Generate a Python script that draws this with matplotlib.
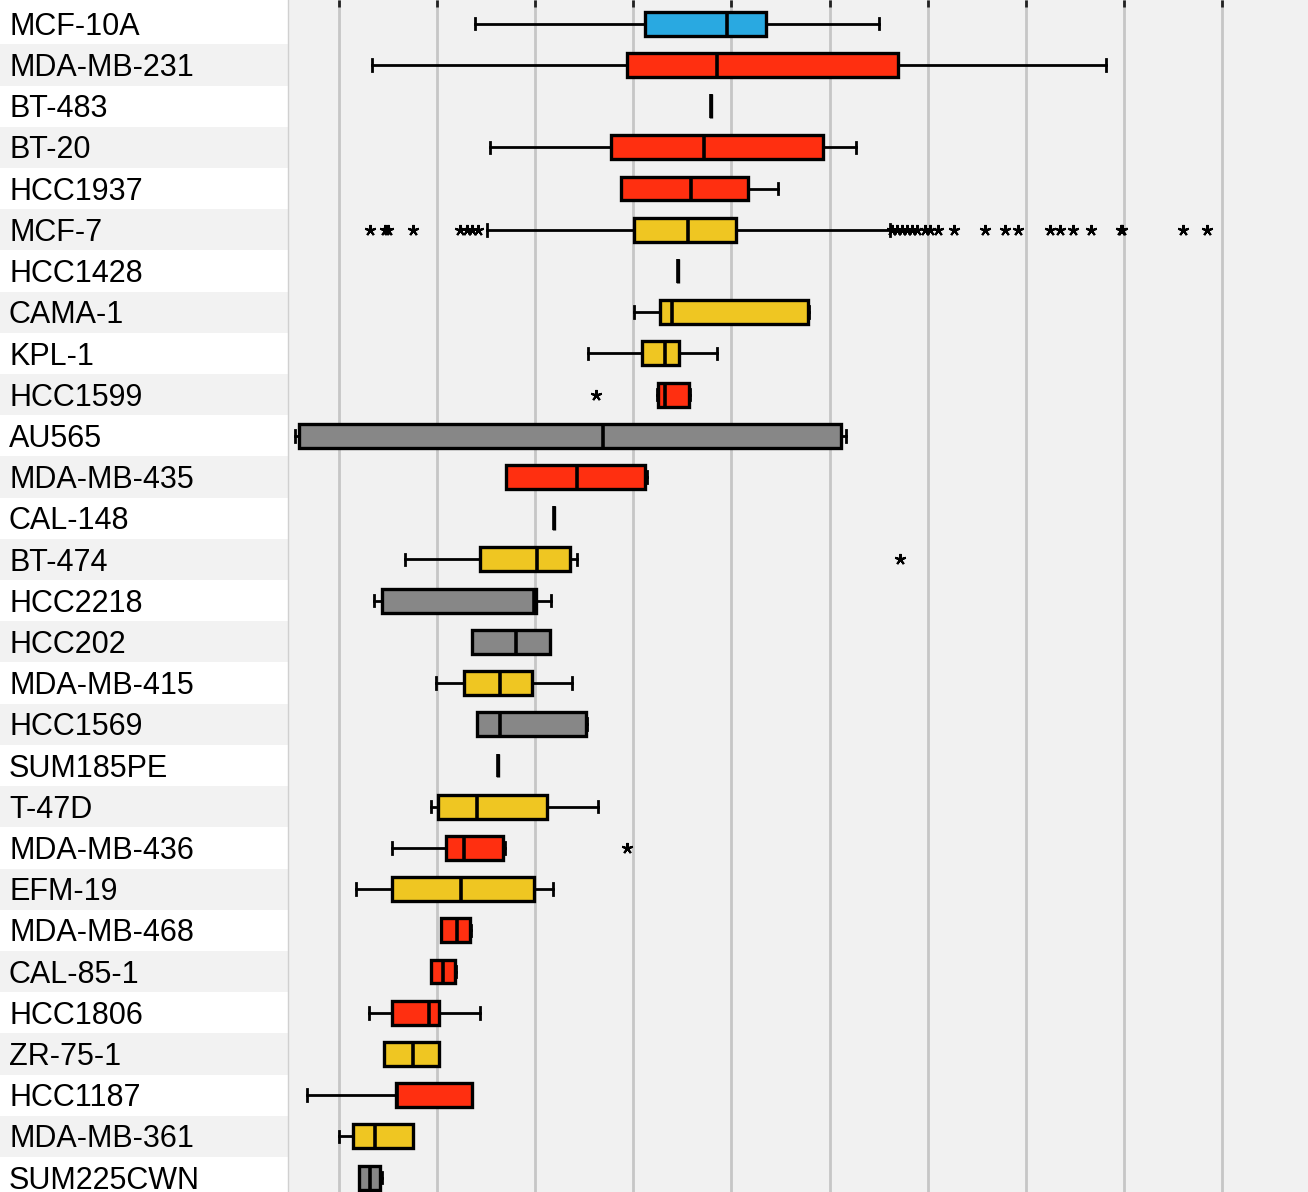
import matplotlib
matplotlib.use("Agg")
import matplotlib.pyplot as plt

plt.rcParams['font.family'] = ['Liberation Sans', 'DejaVu Sans']

# cell lines, top to bottom
names = ["MCF-10A", "MDA-MB-231", "BT-483", "BT-20", "HCC1937", "MCF-7", "HCC1428",
         "CAMA-1", "KPL-1", "HCC1599", "AU565", "MDA-MB-435", "CAL-148", "BT-474",
         "HCC2218", "HCC202", "MDA-MB-415", "HCC1569", "SUM185PE", "T-47D",
         "MDA-MB-436", "EFM-19", "MDA-MB-468", "CAL-85-1", "HCC1806", "ZR-75-1",
         "HCC1187", "MDA-MB-361", "SUM225CWN"]
kinds = ["normal", "tnbc", "lum", "tnbc", "tnbc", "lum", "lum",
         "lum", "lum", "tnbc", "her2", "tnbc", "tnbc", "lum",
         "her2", "her2", "lum", "her2", "lum", "lum",
         "tnbc", "lum", "tnbc", "tnbc", "tnbc", "lum",
         "tnbc", "lum", "her2"]

whislo = [1.386, 0.336, 3.792, 1.539, 2.875, 1.509, 3.456, 3.007, 2.538, 3.242,
          -0.449, 1.702, 2.192, 0.673, 0.357, 1.356, 0.989, 1.407, 1.621, 0.938,
          0.540, 0.173, 1.040, 0.938, 0.306, 0.459, -0.326, 0.000, 0.204]
q1 = [3.119, 2.936, 3.792, 2.773, 2.875, 3.007, 3.456, 3.272, 3.089, 3.252,
      -0.408, 1.702, 2.192, 1.437, 0.438, 1.356, 1.274, 1.407, 1.621, 1.009,
      1.091, 0.540, 1.040, 0.938, 0.540, 0.459, 0.581, 0.143, 0.204]
med = [3.955, 3.853, 3.792, 3.721, 3.588, 3.558, 3.456, 3.395, 3.323, 3.323,
       2.691, 2.426, 2.192, 2.018, 1.988, 1.804, 1.641, 1.641, 1.621, 1.407,
       1.274, 1.244, 1.203, 1.060, 0.917, 0.754, 0.591, 0.367, 0.316]
q3 = [4.353, 5.698, 3.792, 4.934, 4.169, 4.047, 3.456, 4.781, 3.466, 3.568,
      5.117, 3.119, 2.192, 2.355, 2.008, 2.151, 1.967, 2.518, 1.621, 2.120,
      1.672, 1.988, 1.335, 1.182, 1.019, 1.019, 1.356, 0.754, 0.418]
whishi = [5.505, 7.819, 3.792, 5.270, 4.475, 5.617, 3.456, 4.791, 3.853, 3.578,
          5.168, 3.140, 2.192, 2.426, 2.161, 2.151, 2.375, 2.528, 1.621, 2.640,
          1.692, 2.181, 1.346, 1.193, 1.437, 1.019, 1.356, 0.754, 0.438]

# outliers (only a few rows have them)
fliers_mcf7 = [0.316, 0.469, 0.499, 0.754, 1.233, 1.305, 1.356, 1.417,
               5.637, 5.688, 5.739, 5.790, 5.841, 5.892, 5.974, 6.025, 6.106,
               6.270, 6.585, 6.789, 6.922, 7.248, 7.350, 7.482, 7.666, 7.971,
               7.982, 8.604, 8.848]
fliers_hcc1599 = [2.620]
fliers_bt474 = [5.719]
fliers_mdamb436 = [2.936]

colors = {"normal": "#29a9e1", "tnbc": "#ff2f10", "lum": "#efc622", "her2": "#878787"}

fliers = {5: fliers_mcf7, 9: fliers_hcc1599, 13: fliers_bt474, 20: fliers_mdamb436}

stats = []
for i in range(len(names)):
    stats.append(dict(whislo=whislo[i], q1=q1[i], med=med[i], q3=q3[i],
                      whishi=whishi[i], fliers=fliers.get(i, [])))

fig = plt.figure(figsize=(13.08, 11.92), dpi=100)
W, H = 1308, 1192
split = 288
ylims = (28.35, -0.575)

# label column with stripes
lax = fig.add_axes([0, 0, split / W, 1])
lax.set_xlim(0, 1)
lax.set_ylim(*ylims)
for i, n in enumerate(names):
    if i % 2 == 1:
        lax.axhspan(i - 0.5, i + 0.5, color="#f2f2f2", lw=0)
    lax.text(9 / split, i + 0.27, n, fontsize=22, va="baseline", ha="left", color="black")
lax.axis("off")

ax = fig.add_axes([split / W, 0, 1 - split / W, 1])
ax.set_facecolor("#f1f1f1")
ax.set_xlim((split - 339) / 98.1, (W - 339) / 98.1)
ax.set_ylim(*ylims)
ax.set_xticks(range(0, 10))
ax.grid(axis="x", color="#c6c6c6", lw=2)
ax.set_axisbelow(True)

bp = ax.bxp(stats, positions=range(len(names)), orientation="horizontal",
            widths=0.58, capwidths=0.28, patch_artist=True,
            boxprops=dict(edgecolor="black", lw=2.4),
            medianprops=dict(color="black", lw=2.6),
            whiskerprops=dict(color="black", lw=2),
            capprops=dict(color="black", lw=2),
            flierprops=dict(marker=(5, 2, 0), markersize=8, markeredgecolor="black",
                            markeredgewidth=1.5, linestyle="none"))
for patch, k in zip(bp["boxes"], kinds):
    patch.set_facecolor(colors[k])

ax.xaxis.tick_top()
ax.tick_params(axis="x", direction="in", length=5, width=2, color="#222222",
               labeltop=False, labelbottom=False)
ax.tick_params(axis="y", left=False, labelleft=False)
for s in ["top", "right", "bottom"]:
    ax.spines[s].set_visible(False)
ax.spines["left"].set_color("#d0d0d0")
ax.spines["left"].set_linewidth(1)

fig.savefig("out.png", dpi=100)
